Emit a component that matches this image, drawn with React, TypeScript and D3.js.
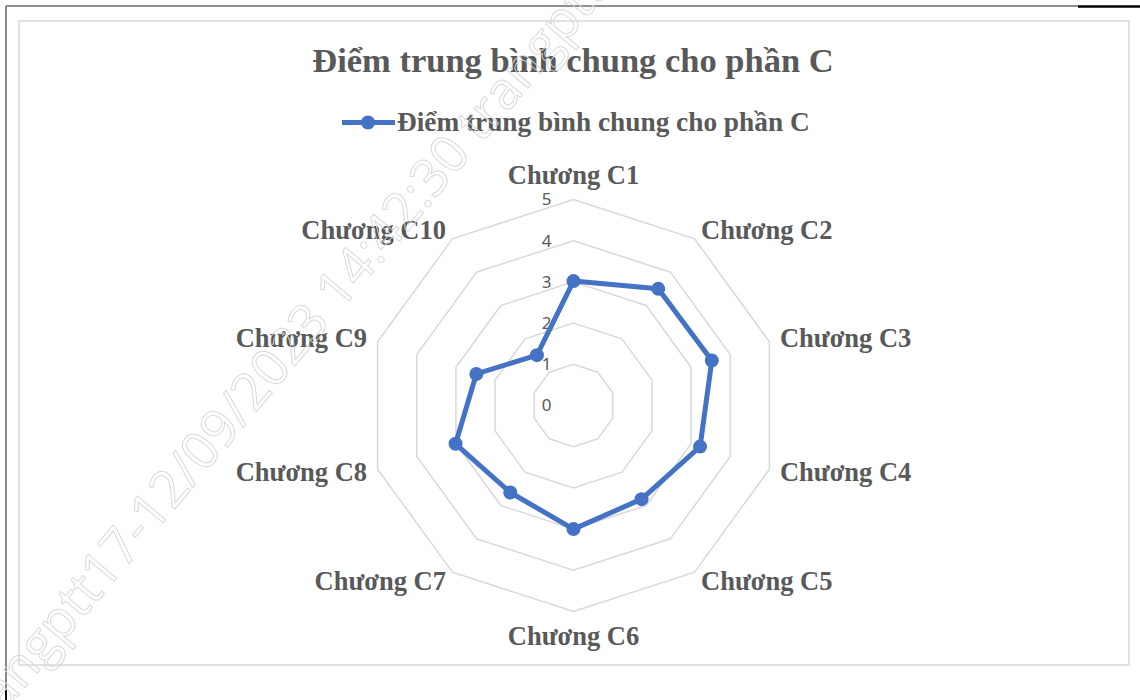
import React from 'react'
import * as d3 from 'd3'

// Radar data
const categories = [
  'Chương C1', 'Chương C2', 'Chương C3', 'Chương C4', 'Chương C5',
  'Chương C6', 'Chương C7', 'Chương C8', 'Chương C9', 'Chương C10',
]
const values = [3.02, 3.5, 3.53, 3.23, 2.81, 3.0, 2.61, 3.01, 2.48, 1.51]
const ticks = [0, 1, 2, 3, 4, 5]
const seriesName = 'Điểm trung bình chung cho phần C'
const title = 'Điểm trung bình chung cho phần C'
const watermark = 'trangptt17-12/09/2023 14:42:30 trangptt17-12/09'

const W = 1140
const H = 700
const cx = 573.5
const cy = 405.5
const R = 206
const blue = '#4472c4'
const grey = '#595959'
const serif = '"Liberation Serif", "Times New Roman", serif'

const App: React.FC = () => {
  const r = d3.scaleLinear().domain([0, 5]).range([0, R])
  const angle = d3.scalePoint<string>()
    .domain(categories)
    .range([0, 2 * Math.PI * (1 - 1 / categories.length)])

  const ring = d3.lineRadial<string>()
    .angle((d) => angle(d)!)
    .curve(d3.curveLinearClosed)

  const series = d3.lineRadial<number>()
    .angle((_, i) => angle(categories[i])!)
    .radius((d) => r(d))
    .curve(d3.curveLinearClosed)

  const pt = (a: number, rad: number) => [Math.sin(a) * rad, -Math.cos(a) * rad]

  return (
    <svg width={W} height={H} style={{ position: 'absolute', left: 0, top: 0, display: 'block', background: '#fff' }}>
      {/* page frame */}
      <line x1={6} y1={6} x2={1078} y2={6} stroke="#222" strokeWidth={1.2} />
      <line x1={1078} y1={6.5} x2={1140} y2={6.5} stroke="#000" strokeWidth={2.5} />
      <line x1={6} y1={6} x2={6} y2={690} stroke="#888" strokeWidth={2} />
      <line x1={6} y1={690} x2={6} y2={700} stroke="#111" strokeWidth={2} />
      <rect x={19} y={21} width={1110} height={644} fill="#fff" stroke="#d9d9d9" strokeWidth={1.5} />

      <text x={573} y={72} textAnchor="middle" fontFamily={serif} fontWeight="bold" fontSize={34.5} fill={grey}>
        {title}
      </text>

      {/* legend */}
      <g>
        <line x1={342} x2={395} y1={122.5} y2={122.5} stroke={blue} strokeWidth={5} />
        <circle cx={368} cy={122.5} r={7} fill={blue} />
        <text x={397} y={131} fontFamily={serif} fontWeight="bold" fontSize={27.3} fill={grey}>
          {seriesName}
        </text>
      </g>

      <g transform={`translate(${cx},${cy})`}>
        {ticks.slice(1).map((t) => (
          <path
            key={t}
            d={ring.radius(r(t))(categories) || ''}
            fill="none"
            stroke="#d9d9d9"
            strokeWidth={1.5}
          />
        ))}
        {ticks.map((t) => (
          <text
            key={t}
            x={-22}
            y={-r(t)}
            dy="0.35em"
            textAnchor="end"
            fontFamily='"Noto Sans", "Open Sans", sans-serif'
            fontSize={17}
            fill={grey}
          >
            {t}
          </text>
        ))}

        {categories.map((c) => {
          const a = angle(c)!
          const [x, y] = pt(a, R + 11)
          const s = Math.sin(a)
          const co = Math.cos(a)
          const anchor = s > 0.1 ? 'start' : s < -0.1 ? 'end' : 'middle'
          const yy = Math.abs(s) < 0.1 ? y - co * 13.5 : y
          return (
            <text
              key={c}
              x={x}
              y={yy}
              dy="0.33em"
              textAnchor={anchor}
              fontFamily={serif}
              fontWeight="bold"
              fontSize={26.5}
              fill={grey}
            >
              {c}
            </text>
          )
        })}

        <path d={series(values) || ''} fill="none" stroke={blue} strokeWidth={5} strokeLinejoin="round" />
        {values.map((v, i) => {
          const [x, y] = pt(angle(categories[i])!, r(v))
          return <circle key={i} cx={x} cy={y} r={7} fill={blue} />
        })}
      </g>

      {/* watermark */}
      <g transform="translate(185,497) rotate(-50)" opacity={0.9}>
        <text
          x={-322}
          y={0}
          fontFamily='"Open Sans", "Noto Sans", sans-serif'
          fontSize={52}
          fill="none"
          stroke="#d6d6d6"
          strokeWidth={1}
        >
          {watermark}
        </text>
      </g>
    </svg>
  )
}

export default App
